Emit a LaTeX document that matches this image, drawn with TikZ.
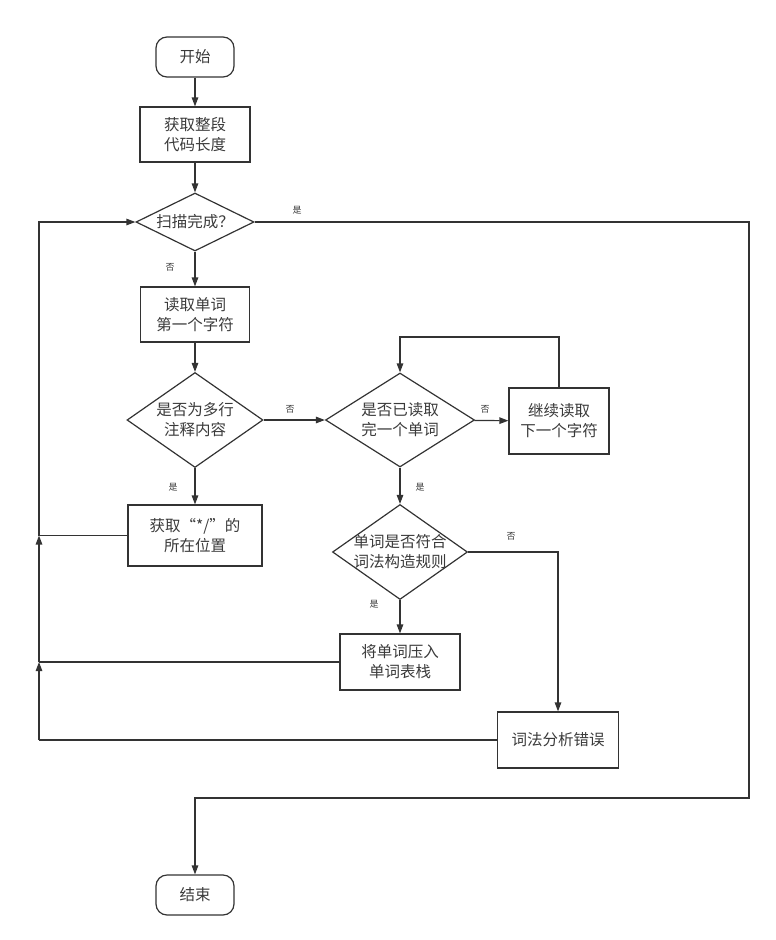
\documentclass[tikz,border=0pt]{standalone}
\usepackage{fontspec}
\newfontfamily\cjk{Noto Sans CJK SC}
\usetikzlibrary{shapes.geometric,arrows.meta}
\definecolor{ln}{HTML}{333333}
\definecolor{tx}{HTML}{3A3A3A}
\tikzset{
  base/.style={draw=ln, line width=1.2pt, text=tx, font=\cjk\fontsize{15.5}{20}\selectfont, align=center, inner sep=0pt},
  term/.style={base, rectangle, rounded corners=11pt, minimum width=78pt, minimum height=40pt},
  proc/.style={base, rectangle},
  dec/.style={draw=ln, line width=1.2pt, diamond, inner sep=0pt, aspect=1},
  dectext/.style={text=tx, font=\cjk\fontsize{15.5}{20}\selectfont, align=center, inner sep=0pt},
  lab/.style={text=tx, font=\cjk\fontsize{9}{10}\selectfont, inner sep=0pt},
  conn/.style={draw=ln, line width=1.2pt},
  arr/.style={conn, -{Triangle[length=9pt,width=6.5pt]}}
}
\begin{document}
\begin{tikzpicture}[x=1pt,y=-1pt]
\useasboundingbox (0,0) rectangle (776,940);
% nodes
\node[term] (start) at (195,57) {开始};
\node[proc, minimum width=110pt, minimum height=55pt] (b1) at (195,134.5) {获取整段\\代码长度};
\node[dec, minimum width=118pt, minimum height=58pt] (d1) at (195,222) {};
\node[dectext] (t1) at (d1.center) {扫描完成？};
\node[proc, minimum width=109pt, minimum height=55pt] (b2) at (195,314.5) {读取单词\\第一个字符};
\node[dec, minimum width=136pt, minimum height=95pt] (d2) at (195,420) {};
\node[dectext] (t2) at (d2.center) {是否为多行\\注释内容};
\node[proc, minimum width=134pt, minimum height=61pt] (b3) at (195,535.5) {获取“*/”的\\所在位置};
\node[dec, minimum width=149pt, minimum height=94pt] (d3) at (400,420) {};
\node[dectext] (t3) at (d3.center) {是否已读取\\完一个单词};
\node[proc, minimum width=100pt, minimum height=66pt] (b4) at (559,421) {继续读取\\下一个字符};
\node[dec, minimum width=135pt, minimum height=95pt] (d4) at (400,552) {};
\node[dectext] (t4) at (d4.center) {单词是否符合\\词法构造规则};
\node[proc, minimum width=120pt, minimum height=56pt] (b5) at (400,662) {将单词压入\\单词表栈};
\node[proc, minimum width=121pt, minimum height=56pt] (b6) at (558,740) {词法分析错误};
\node[term] (end) at (195,895) {结束};
% coordinates
\coordinate (c1) at (749,222);
\coordinate (c2) at (749,798);
\coordinate (c3) at (195,798);
\coordinate (c4) at (559,337);
\coordinate (c5) at (400,337);
\coordinate (c6) at (558,552);
\coordinate (l1) at (39,740);
\coordinate (l2) at (39,662);
\coordinate (l3) at (39,535.5);
\coordinate (l4) at (39,222);
% connectors
\draw[arr] (start) -- (b1);
\draw[arr] (b1) -- (d1);
\draw[arr] (d1) -- (b2);
\draw[arr] (b2) -- (d2);
\draw[arr] (d2) -- (b3);
\draw[arr] (d2) -- (d3);
\draw[arr] (d3) -- (b4);
\draw[arr] (b4.north) -- (c4) -- (c5) -- (d3.north);
\draw[arr] (d3) -- (d4);
\draw[arr] (d4) -- (b5);
\draw[arr] (d4.east) -- (c6) -- (b6.north);
\draw[arr] (d1.east) -- (c1) -- (c2) -- (c3) -- (end.north);
\draw[conn] (b6.west) -- (l1);
\draw[arr] (l1) -- (l2);
\draw[conn] (b5.west) -- (l2);
\draw[arr] (l2) -- (l3);
\draw[conn] (b3.west) -- (l3);
\draw[arr] (l3) -- (l4) -- (d1.west);
% labels
\node[lab] (y1) at (297,210) {是};
\node[lab] (n1) at (170,267) {否};
\node[lab] (n2) at (290,409) {否};
\node[lab] (n3) at (485,409) {否};
\node[lab] (y2) at (420,487) {是};
\node[lab] (y3) at (173,487) {是};
\node[lab] (y4) at (374,604) {是};
\node[lab] (n4) at (511,536) {否};
\end{tikzpicture}
\end{document}
